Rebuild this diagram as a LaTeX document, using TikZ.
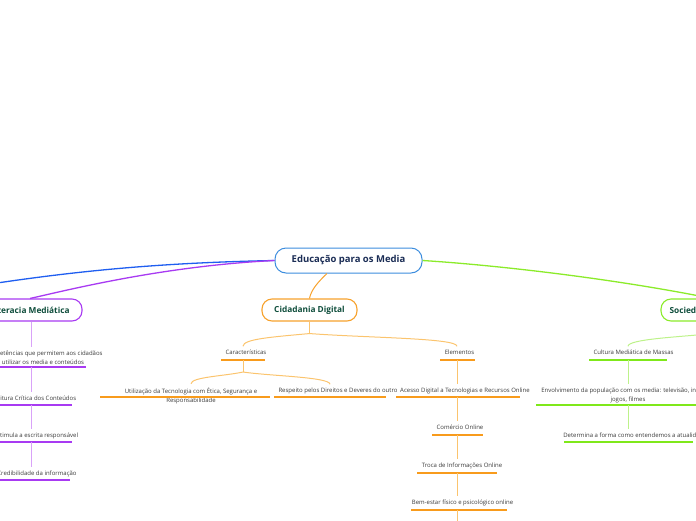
\documentclass[tikz,border=0pt]{standalone}
\usepackage{fontspec}
\setmainfont{Open Sans}
\definecolor{rootB}{HTML}{3C8DDE}
\definecolor{rootT}{HTML}{1B2D55}
\definecolor{boxT}{HTML}{0E4D3B}
\definecolor{itemT}{HTML}{3A3A3A}
\definecolor{blueL}{HTML}{1F5EF0}
\definecolor{purM}{HTML}{A83AF2}
\definecolor{purL}{HTML}{D9A2F8}
\definecolor{oraM}{HTML}{F7A22D}
\definecolor{oraU}{HTML}{F89B1C}
\definecolor{oraL}{HTML}{FBC46E}
\definecolor{greM}{HTML}{8BEB2A}
\definecolor{greU}{HTML}{7FE81A}
\definecolor{greL}{HTML}{BDF28A}
\begin{document}
\begin{tikzpicture}[x=1pt,y=-1pt,
  box/.style={draw, rounded corners=10pt, fill=white, line width=1.1pt, minimum height=22pt, inner sep=0pt, text=boxT, font=\bfseries\fontsize{8.3}{10}\selectfont},
  item/.style={text=itemT, font=\fontsize{6}{9}\selectfont, inner xsep=1pt, inner ysep=3.5pt, align=center},
  one/.style={text height=4.6pt, text depth=1.4pt},
  mainline/.style={line width=1.3pt},
  con/.style={line width=1pt},
  ul/.style={line width=1.9pt}]
\useasboundingbox (0,0) rectangle (696,520);

% main boxes
\node[box, draw=rootB, text=rootT, font=\bfseries\fontsize{9.5}{11}\selectfont, minimum width=147pt, minimum height=25pt, rounded corners=11pt, line width=1pt] (root) at (348.5,260.5) {Educação para os Media};
\node[box, draw=purM, minimum width=104pt] (lit) at (30,310) {Literacia Mediática};
\node[box, draw=oraM, minimum width=95pt] (cid) at (309.5,310) {Cidadania Digital};
\node[box, draw=greM, minimum width=102pt] (soc) at (712,310) {Sociedade Mediática};
\coordinate (offL) at (-60,292);

% main curves
\draw[mainline, blueL] (root.west) .. controls (150,263) and (60,272) .. (offL);
\draw[mainline, purM] (root.west) .. controls (160,266) and (60,292) .. (lit.north);
\draw[mainline, greM] (root.east) .. controls (480,264) and (600,276) .. (soc.north);
\draw[con, oraM] ([xshift=-21.5pt]root.south) .. controls (318,282) and (311,290) .. (cid.north);

% Literacia children
\node[item] (lc1) at (43,357.5) {Competências que permitem aos cidadãos\\utilizar os media e conteúdos};
\node[item,one] (lc2) at (35,399) {Leitura Crítica dos Conteúdos};
\node[item,one] (lc3) at (36,436) {Estimula a escrita responsável};
\node[item,one] (lc4) at (37,474) {Credibilidade da informação};
\coordinate (lc1u) at (31,367);
\coordinate (lc2u) at (31,405);
\coordinate (lc3u) at (31,442);
\draw[ul, purM] (-24,367) -- (86,367);
\draw[ul, purM] (-10,405) -- (72,405);
\draw[ul, purM] (-10,442) -- (72,442);
\draw[ul, purM] (-8,480) -- (70,480);
\draw[con, purL] (lit.south -| lc1u) -- (lc1u |- lc1.north);
\draw[con, purL] (lc1u) -- (lc1u |- lc2.north);
\draw[con, purL] (lc2u) -- (lc2u |- lc3.north);
\draw[con, purL] (lc3u) -- (lc3u |- lc4.north);

% Cidadania children
\node[item,one] (car) at (246,353) {Características};
\node[item,one] (ele) at (459.5,353) {Elementos};
\node[item] (ut) at (191,395.5) {Utilização da Tecnologia com Ética, Segurança e\\Responsabilidade};
\node[item,one] (resp) at (338,391) {Respeito pelos Direitos e Deveres do outro};
\node[item,one] (acc) at (465,391) {Acesso Digital a Tecnologias e Recursos Online};
\node[item,one] (com) at (460,428) {Comércio Online};
\node[item,one] (tro) at (462,466) {Troca de Informações Online};
\node[item,one] (bem) at (462.5,503) {Bem-estar físico e psicológico online};
\coordinate (caru) at (243,360);
\coordinate (eleu) at (457,360);
\coordinate (accu) at (457,397);
\coordinate (comu) at (457,435);
\coordinate (trou) at (457,473);
\coordinate (bemu) at (457,510);
\coordinate (belowE) at (457,530);
\draw[ul, oraU] (221,360) -- (265,360);
\draw[ul, oraU] (440,360) -- (475,360);
\draw[ul, oraU] (100,397) -- (270,397);
\draw[ul, oraU] (274,397) -- (386,397);
\draw[ul, oraU] (396,397) -- (520,397);
\draw[ul, oraU] (432,435) -- (483,435);
\draw[ul, oraU] (417,473) -- (497,473);
\draw[ul, oraU] (411,510) -- (507,510);
\draw[con, oraL] (cid.south) -- ++(0,12) coordinate (cidb);
\draw[con, oraL] (cidb) .. controls (272,337) and (243,339) .. ([xshift=-3pt]car.north);
\draw[con, oraL] (cidb) .. controls (370,338) and (457,338) .. ([xshift=-2.5pt]ele.north);
\draw[con, oraL] (caru) -- ++(0,12) coordinate (carb);
\draw[con, oraL] (carb) .. controls (225,376) and (191,377) .. (ut.north);
\draw[con, oraL] (carb) .. controls (270,376) and (330,377) .. ([xshift=-8pt]resp.north);
\draw[con, oraL] (eleu) -- (eleu |- acc.north);
\draw[con, oraL] (accu) -- (accu |- com.north);
\draw[con, oraL] (comu) -- (comu |- tro.north);
\draw[con, oraL] (trou) -- (trou |- bem.north);
\draw[con, oraL] (bemu) -- (belowE);

% Sociedade children
\node[item,one] (cul) at (633.5,353) {Cultura Mediática de Massas};
\node[item] (env) at (628,395.5) {Envolvimento da população com os media: televisão, internet,\\jogos, filmes};
\node[item,one] (det) at (635,436) {Determina a forma como entendemos a atualidade};
\coordinate (culu) at (628,360);
\coordinate (envu) at (628,405);
\draw[ul, greU] (589,360) -- (667,360);
\draw[ul, greU] (536,405) -- (720,405);
\draw[ul, greU] (564,442) -- (693,442);
\draw[con, greL] (soc.south) -- ++(0,12) coordinate (socb);
\draw[con, greL] (socb) .. controls (680,337) and (628,339) .. ([xshift=-5.5pt]cul.north);
\draw[con, greL] (culu) -- (culu |- env.north);
\draw[con, greL] (envu) -- (envu |- det.north);
\end{tikzpicture}
\end{document}
